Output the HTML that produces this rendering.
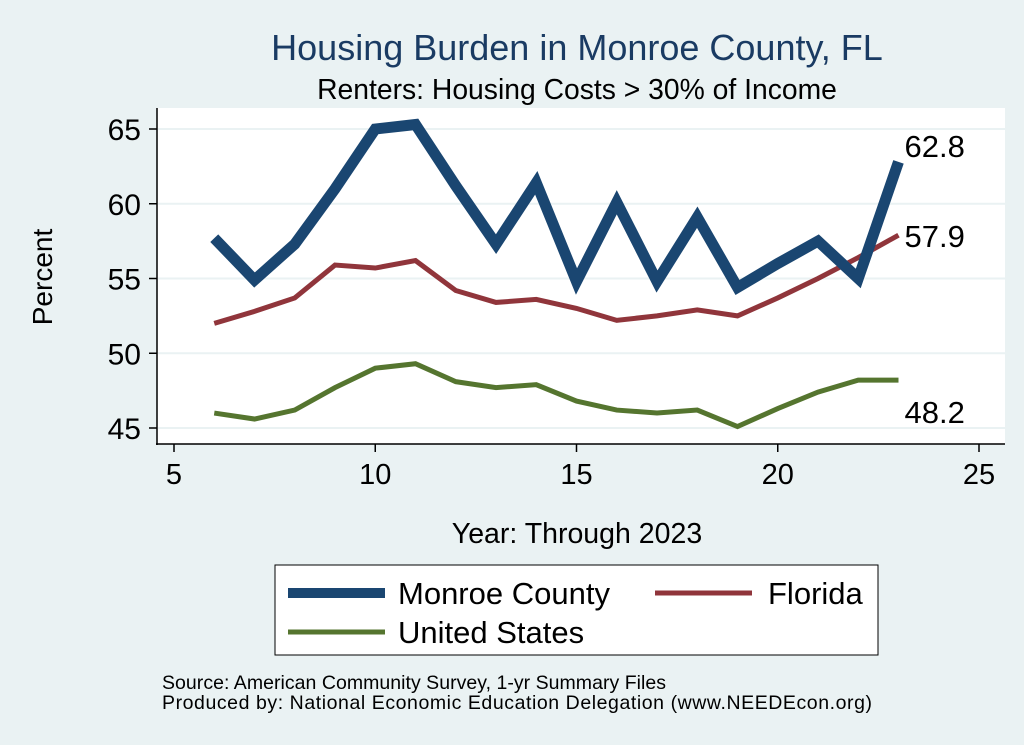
<!DOCTYPE html>
<html><head><meta charset="utf-8"><style>
body{margin:0;background:#eaf2f3;}
svg{display:block;font-family:"Liberation Sans",sans-serif;}
</style></head><body>
<svg width="1024" height="745">
<rect x="0" y="0" width="1024" height="745" fill="#eaf2f3"/>
<text x="577" y="60" font-size="36" fill="#1a3b63" text-anchor="middle">Housing Burden in Monroe County, FL</text>
<text x="577" y="99" font-size="28.3" fill="#000" text-anchor="middle">Renters: Housing Costs &gt; 30% of Income</text>
<rect x="157" y="108" width="848" height="336" fill="#fff"/>
<g id="grid"></g>
<g id="axes"></g>
<g id="series"></g>
<text x="52" y="277" font-size="28" text-anchor="middle" transform="rotate(-90 52 277)">Percent</text>
<text x="577" y="543" font-size="28.5" text-anchor="middle">Year: Through 2023</text>
<g>
<rect x="275" y="565" width="603" height="90" fill="#fff" stroke="#000" stroke-width="1"/>
<line x1="288" y1="593" x2="385" y2="593" stroke="#1a4671" stroke-width="10"/>
<text x="398" y="604" font-size="31">Monroe County</text>
<line x1="655" y1="593" x2="752" y2="593" stroke="#90353b" stroke-width="5"/>
<text x="768" y="604" font-size="31">Florida</text>
<line x1="288" y1="632" x2="385" y2="632" stroke="#55752f" stroke-width="5"/>
<text x="398" y="643" font-size="31">United States</text>
</g>
<text x="162" y="689" font-size="19.5" textLength="504">Source: American Community Survey, 1-yr Summary Files</text>
<text x="162" y="709" font-size="19.5" textLength="710">Produced by: National Economic Education Delegation (www.NEEDEcon.org)</text>
</svg>
<script>
const years=[6,7,8,9,10,11,12,13,14,15,16,17,18,19,20,21,22,23];
const monroe=[57.7,54.9,57.3,61,65,65.3,61.2,57.3,61.4,54.8,60.1,54.8,59.1,54.4,56,57.5,55,62.8];
const florida=[52,52.8,53.7,55.9,55.7,56.2,54.2,53.4,53.6,53,52.2,52.5,52.9,52.5,53.7,55,56.4,57.9];
const us=[46,45.6,46.2,47.7,49,49.3,48.1,47.7,47.9,46.8,46.2,46,46.2,45.1,46.3,47.4,48.2,48.2];
const yTicks=[45,50,55,60,65];
const xTicks=[5,10,15,20,25];
const NS='http://www.w3.org/2000/svg';
function sx(v){return 174+(v-5)*40.25;}
function sy(v){return 129+(65-v)*14.95;}
function mk(tag,attrs,parent){const e=document.createElementNS(NS,tag);for(const k in attrs)e.setAttribute(k,attrs[k]);document.getElementById(parent).appendChild(e);return e;}
yTicks.forEach(t=>{
 const g=mk('line',{x1:158,x2:1005,y1:sy(t),y2:sy(t),stroke:'#eaf2f3','stroke-width':2},'grid');
 
 
 const tk=mk('line',{x1:149,x2:157,y1:sy(t),y2:sy(t),stroke:'#000','stroke-width':1.5},'axes');
 
 
 const l=mk('text',{x:141,y:sy(t)+11,'font-size':30,'text-anchor':'end'},'axes');
 l.textContent=t;
 
 
});
xTicks.forEach(t=>{
 const tk=mk('line',{x1:sx(t),x2:sx(t),y1:444,y2:452,stroke:'#000','stroke-width':1.5},'axes');
 
 
 const l=mk('text',{x:sx(t),y:484,'font-size':29,'text-anchor':'middle'},'axes');
 l.textContent=t;
 
 
});
const ya=mk('line',{x1:157,x2:157,y1:108,y2:445,stroke:'#000','stroke-width':1.5},'axes');


const xa=mk('line',{x1:156,x2:1005,y1:444,y2:444,stroke:'#000','stroke-width':1.5},'axes');


function line(vals,color,w,name){
 const d=vals.map((v,i)=>(i?'L':'M')+sx(years[i])+','+sy(v)).join(' ');
 const p=mk('path',{d:d,fill:'none',stroke:color,'stroke-width':w,'stroke-linejoin':'miter'},'series');
 
 
 const n=vals.length-1;
 const lbl=mk('text',{x:sx(years[n])+6,y:sy(vals[n])+(name==='us-line'?31:0)+(name==='monroe-line'?-5:12),'font-size':31},'series');
 lbl.textContent=vals[n].toFixed(1);
 
 
}
line(us,'#55752f',5,'us-line');
line(florida,'#90353b',5,'florida-line');
line(monroe,'#1a4671',11,'monroe-line');
</script>
</body></html>
